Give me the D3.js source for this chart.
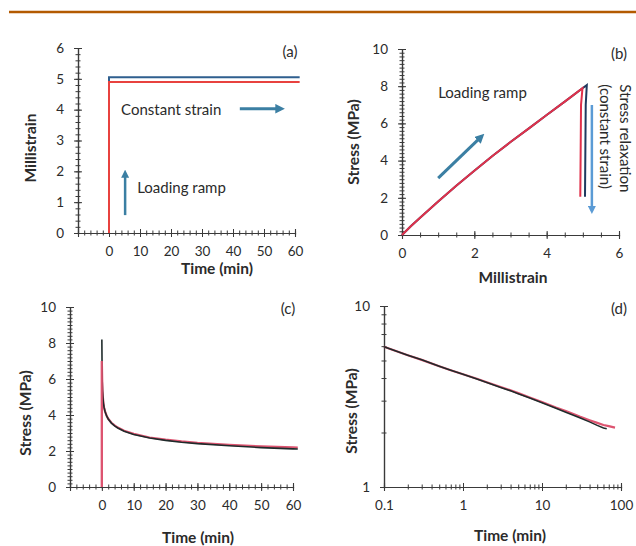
<!DOCTYPE html>
<html><head><meta charset="utf-8">
<script src="https://cdn.jsdelivr.net/npm/d3@7"></script>
<style>
body{margin:0;background:#fff;}
svg{display:block;font-family:Lato,"Open Sans",sans-serif;}
</style></head><body>
<svg id="fig" width="636" height="546"></svg>
<script>
// (a) applied strain history
const strainTime = [0, 0, 61.5];
const strainBlue = [0, 5.05, 5.05];
const strainRed = [0, 4.9, 4.9];

// (b) stress vs strain: loading ramp then relaxation at constant strain
const bStrainRed  = [0, 0.25, 0.5, 1, 1.5, 2, 2.5, 3, 3.5, 4, 4.5, 4.99, 4.95, 4.93];
const bStressRed  = [0, 0.48, 0.93, 1.8, 2.65, 3.45, 4.25, 5.0, 5.72, 6.45, 7.17, 7.89, 7.0, 2.06];
const bStrainNavy = [0, 0.25, 0.5, 1, 1.5, 2, 2.5, 3, 3.5, 4, 4.5, 4.99, 5.11, 5.08, 5.06];
const bStressNavy = [0, 0.48, 0.93, 1.8, 2.65, 3.45, 4.25, 5.0, 5.72, 6.45, 7.17, 7.89, 8.06, 7.0, 2.06];

// (c)/(d) stress relaxation
const peakBlack = 8.2, peakRed = 7.0;
const relaxTimeBlack = [0.1,0.2,0.3,0.5,0.7,1,1.5,2,3,4,5,7,10,15,20,25,30,40,50,60,66];
const relaxBlack     = [5.96,5.35,5.04,4.65,4.42,4.20,3.95,3.78,3.55,3.40,3.28,3.10,2.92,2.72,2.59,2.49,2.41,2.29,2.19,2.12,2.10];
const relaxTimeRed   = [0.1,0.2,0.3,0.5,0.7,1,1.5,2,3,4,5,7,10,15,20,25,30,40,50,60,70,84];
const relaxRed       = [5.96,5.35,5.04,4.65,4.42,4.20,3.96,3.79,3.57,3.42,3.30,3.12,2.95,2.75,2.63,2.53,2.45,2.34,2.26,2.20,2.17,2.13];

// tick labels
const timeTicks = [0,10,20,30,40,50,60];
const strainTicksA = [0,1,2,3,4,5,6];
const strainTicksB = [0,2,4,6];
const stressTicks = [0,2,4,6,8,10];
const logTimeTicks = [0.1,1,10,100];
const logStressTicks = [1,10];

const C = {
  text:"#2b2b2b", axis:"#3a3a3a",
  redA:"#e8423f", blueA:"#2f5f8f",
  redB:"#e0314b", navyB:"#1f3a5f",
  redC:"#dd5470", blackC:"#1f2b2b",
  arrow:"#3b7fa3", arrowLight:"#5b9bd5", rule:"#b35a00"
};

const svg = d3.select("#fig");
svg.append("line").attr("x1",9).attr("x2",636).attr("y1",12).attr("y2",12)
  .attr("stroke",C.rule).attr("stroke-width",2.5);

const defs = svg.append("defs");
function marker(id,color){
  defs.append("marker").attr("id",id).attr("viewBox","0 0 10 10")
    .attr("refX",6).attr("refY",5).attr("markerWidth",3.2).attr("markerHeight",3.2)
    .attr("orient","auto").append("path").attr("d","M0,0L10,5L0,10z").attr("fill",color);
}
marker("ah",C.arrow); marker("ahl",C.arrowLight);

// axis with ticks crossing the axis line
function drawAxis(g, scale, orient, majors, minors, fmt, pad){
  const mk = orient==="bottom" ? [d3.axisBottom, d3.axisTop] : [d3.axisLeft, d3.axisRight];
  const a = g.append("g").call(mk[0](scale).tickValues(majors).tickSize(4).tickPadding(pad).tickFormat(fmt));
  g.append("g").call(mk[1](scale).tickValues(majors).tickSize(4).tickFormat(""));
  g.append("g").call(mk[0](scale).tickValues(minors).tickSize(2.5).tickFormat(""));
  g.append("g").call(mk[1](scale).tickValues(minors).tickSize(2.5).tickFormat(""));
  g.selectAll(".domain").attr("stroke",C.axis).attr("stroke-width",1.1);
  g.selectAll(".tick line").attr("stroke",C.axis).attr("stroke-width",1);
  a.selectAll("text").attr("fill",C.text).style("font-size","13.5px").style("font-family","Lato,sans-serif");
  return a;
}
function range(a,b,s){const r=[];for(let v=a;v<=b+1e-9;v+=s)r.push(+v.toFixed(4));return r;}
function title(t,x,y,rot){
  const e=svg.append("text").attr("fill",C.text).style("font-size","15.5px").style("font-weight","bold")
    .attr("text-anchor","middle").attr("dominant-baseline","central").text(t);
  if(rot) e.attr("transform",`translate(${x},${y}) rotate(-90)`); else e.attr("x",x).attr("y",y);
}
function label(t,x,y,anchor){
  svg.append("text").attr("x",x).attr("y",y).attr("fill",C.text).style("font-size","15px")
    .attr("text-anchor",anchor||"middle").attr("dominant-baseline","central").text(t);
}
function pathOf(xs,ys,xS,yS){ return d3.line().x((d,i)=>xS(xs[i])).y(d=>yS(d))(ys); }
function arrow(x1,y1,x2,y2,color,mid,w){
  svg.append("line").attr("x1",x1).attr("y1",y1).attr("x2",x2).attr("y2",y2)
    .attr("stroke",color).attr("stroke-width",w||3).attr("marker-end",`url(#${mid})`);
}
const intFmt = d3.format("d");

// ---------- (a) ----------
{
  const x = d3.scaleLinear().domain([-10,60]).range([78,295]);
  const y = d3.scaleLinear().domain([0,6]).range([233,48]);
  drawAxis(svg.append("g").attr("transform","translate(0,233)"), x, "bottom", timeTicks, range(-10,60,2), intFmt, 9);
  drawAxis(svg.append("g").attr("transform","translate(78,0)"), y, "left", strainTicksA, range(0,6,0.2), intFmt, 10);
  svg.append("path").attr("d",pathOf(strainTime,strainBlue,x,y)).attr("fill","none").attr("stroke",C.blueA).attr("stroke-width",2);
  svg.append("path").attr("d",pathOf(strainTime,strainRed,x,y)).attr("fill","none").attr("stroke",C.redA).attr("stroke-width",2);
  title("Time (min)",217,268); title("Millistrain",30,148,true);
  label("(a)",290,51);
  label("Constant strain",x(3.9),y(4.03),"start");
  arrow(x(42.2),y(4.03),x(55.5),y(4.03),C.arrow,"ah",3);
  label("Loading ramp",x(9.1),y(1.5),"start");
  arrow(x(5.2),y(0.58),x(5.2),y(1.95),C.arrow,"ah",2.5);
}

// ---------- (b) ----------
{
  const x = d3.scaleLinear().domain([0,6]).range([402,619]);
  const y = d3.scaleLinear().domain([0,10]).range([235,49]);
  drawAxis(svg.append("g").attr("transform","translate(0,235)"), x, "bottom", strainTicksB, range(0,6,0.5), intFmt, 9);
  drawAxis(svg.append("g").attr("transform","translate(402,0)"), y, "left", stressTicks, range(0,10,0.2), intFmt, 10);
  svg.append("path").attr("d",pathOf(bStrainNavy,bStressNavy,x,y)).attr("fill","none").attr("stroke",C.navyB).attr("stroke-width",2);
  svg.append("path").attr("d",pathOf(bStrainRed,bStressRed,x,y)).attr("fill","none").attr("stroke",C.redB).attr("stroke-width",2);
  title("Millistrain",513,277); title("Stress (MPa)",353,142,true);
  label("(b)",619,53);
  label("Loading ramp",x(1.0),y(7.69),"start");
  arrow(x(1.0),y(3.06),x(2.2),y(5.3),C.arrow,"ah",3);
  arrow(x(5.25),y(6.99),x(5.25),y(1.3),C.arrowLight,"ahl",2.5);
  [["Stress relaxation",626],["(constant strain)",606]].forEach(([t,px])=>{
    svg.append("text").attr("transform",`translate(${px},${y(8.1)}) rotate(90)`)
      .attr("fill",C.text).style("font-size","15px").attr("dominant-baseline","central").text(t);
  });
}

// ---------- (c) ----------
{
  const x = d3.scaleLinear().domain([-10,60]).range([70,293]);
  const y = d3.scaleLinear().domain([0,10]).range([487,307]);
  drawAxis(svg.append("g").attr("transform","translate(0,487)"), x, "bottom", timeTicks, range(-10,60,2), intFmt, 9);
  drawAxis(svg.append("g").attr("transform","translate(70,0)"), y, "left", stressTicks, range(0,10,0.2), intFmt, 10);
  defs.append("clipPath").attr("id","clipc").append("rect").attr("x",60).attr("y",290).attr("width",x(61.5)-60).attr("height",200);
  const g = svg.append("g").attr("clip-path","url(#clipc)");
  g.append("path").attr("d",pathOf([0,0].concat(relaxTimeRed),[0,peakRed].concat(relaxRed),x,y))
    .attr("fill","none").attr("stroke",C.redC).attr("stroke-width",2.2);
  g.append("path").attr("d",pathOf([0].concat(relaxTimeBlack),[peakBlack].concat(relaxBlack),x,y))
    .attr("fill","none").attr("stroke",C.blackC).attr("stroke-width",1.6);
  g.append("path").attr("d",pathOf([0,0],[0,peakRed],x,y)).attr("fill","none").attr("stroke",C.redC).attr("stroke-width",2);
  title("Time (min)",198,537); title("Stress (MPa)",25,413,true);
  label("(c)",288,308);
}

// ---------- (d) ----------
{
  const x = d3.scaleLog().domain([0.1,100]).range([384,621]);
  const y = d3.scaleLog().domain([1,10]).range([487,306]);
  const minX = [], minY = [];
  [0.1,1,10].forEach(d=>{for(let k=2;k<=9;k++)minX.push(d*k);});
  for(let k=2;k<=9;k++)minY.push(k);
  const fmt = d=> d<1 ? "0.1" : intFmt(d);
  drawAxis(svg.append("g").attr("transform","translate(0,487)"), x, "bottom", logTimeTicks, minX, fmt, 9);
  drawAxis(svg.append("g").attr("transform","translate(384,0)"), y, "left", logStressTicks, minY, fmt, 10);
  svg.append("path").attr("d",pathOf(relaxTimeRed,relaxRed,x,y)).attr("fill","none").attr("stroke",C.redC).attr("stroke-width",2.2);
  svg.append("path").attr("d",pathOf(relaxTimeBlack,relaxBlack,x,y)).attr("fill","none").attr("stroke",C.blackC).attr("stroke-width",1.6);
  title("Time (min)",510,535); title("Stress (MPa)",351,411,true);
  label("(d)",619,308);
}
</script>
</body></html>
